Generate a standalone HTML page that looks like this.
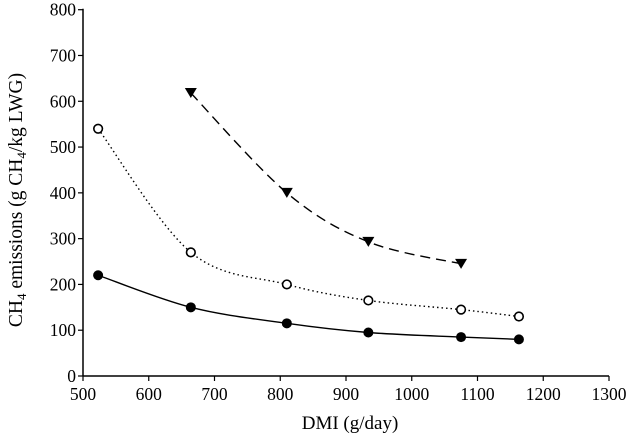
<!DOCTYPE html>
<html><head><meta charset="utf-8"><style>
body{margin:0;background:#fff}
svg{display:block;font-family:"Liberation Serif","Times New Roman",serif}
</style></head><body>
<svg id="c" width="628" height="438"></svg>
<script>
const xTicks=[500,600,700,800,900,1000,1100,1200,1300];
const yTicks=[0,100,200,300,400,500,600,700,800];
const dmiA=[523,664,810,934,1075,1163];
const solidVals=[220,150,115,95,85,80];
const openVals=[540,270,200,165,145,130];
const dmiB=[664,810,934,1075];
const triVals=[618,400,293,245];

const svg=document.getElementById('c');
const NS='http://www.w3.org/2000/svg';
const X0=83,X1=609,Y0=376,Y1=9.7;
const sx=v=>X0+(v-500)/800*(X1-X0);
const sy=v=>Y0-v/800*(Y0-Y1);
function mk(t,a,p){const e=document.createElementNS(NS,t);for(const k in a)e.setAttribute(k,a[k]);(p||svg).appendChild(e);return e;}

const axes=mk('g',{});


mk('line',{x1:X0,y1:Y1-1,x2:X0,y2:Y0,stroke:'#000','stroke-width':1.5},axes);
mk('line',{x1:X0,y1:Y0,x2:X1,y2:Y0,stroke:'#000','stroke-width':1.5},axes);
xTicks.forEach(t=>{
  mk('line',{x1:sx(t),y1:Y0,x2:sx(t),y2:Y0+5,stroke:'#000','stroke-width':1.2},axes);
  const tx=mk('text',{x:sx(t),y:Y0+24,'text-anchor':'middle','font-size':17.5},axes);
  tx.textContent=t;
  
  
});
yTicks.forEach(t=>{
  mk('line',{x1:X0-5,y1:sy(t),x2:X0,y2:sy(t),stroke:'#000','stroke-width':1.2},axes);
  const tx=mk('text',{x:X0-7,y:sy(t)+6,'text-anchor':'end','font-size':17.5},axes);
  tx.textContent=t;
  
  
});
const xt=mk('text',{x:350,y:429,'text-anchor':'middle','font-size':19});
xt.textContent='DMI (g/day)';


const yt=mk('text',{transform:'translate(22,200) rotate(-90)','text-anchor':'middle','font-size':19.5});
yt.innerHTML='CH<tspan font-size="13" dy="4">4</tspan><tspan dy="-4"> emissions (g CH</tspan><tspan font-size="13" dy="4">4</tspan><tspan dy="-4">/kg LWG)</tspan>';



function smooth(xs,ys){
  const p=xs.map((x,i)=>[sx(x),sy(ys[i])]);
  let d='M'+p[0][0]+','+p[0][1];
  for(let i=0;i<p.length-1;i++){
    const p0=p[Math.max(0,i-1)],p1=p[i],p2=p[i+1],p3=p[Math.min(p.length-1,i+2)];
    const c1=[p1[0]+(p2[0]-p0[0])/6,p1[1]+(p2[1]-p0[1])/6];
    const c2=[p2[0]-(p3[0]-p1[0])/6,p2[1]-(p3[1]-p1[1])/6];
    d+=`C${c1[0]},${c1[1]} ${c2[0]},${c2[1]} ${p2[0]},${p2[1]}`;
  }
  return d;
}
function series(name,xs,ys,dash,marker){
  const g=mk('g',{});
  
  
  mk('path',{d:smooth(xs,ys),fill:'none',stroke:'#000','stroke-width':1.4,'stroke-dasharray':dash},g);
  xs.forEach((x,i)=>{
    const cx=sx(x),cy=sy(ys[i]);let m;
    if(marker==='solid')m=mk('circle',{cx,cy,r:5,fill:'#000'},g);
    else if(marker==='open')m=mk('circle',{cx,cy,r:4.3,fill:'#fff',stroke:'#000','stroke-width':1.6},g);
    else m=mk('path',{d:`M${cx-6},${cy-5}L${cx+6},${cy-5}L${cx},${cy+5}Z`,fill:'#000'},g);
    
    
  });
}
series('series-solid-circles',dmiA,solidVals,'none','solid');
series('series-open-circles',dmiA,openVals,'1.5,3','open');
series('series-triangles',dmiB,triVals,'10,6','tri');
</script>
</body></html>
